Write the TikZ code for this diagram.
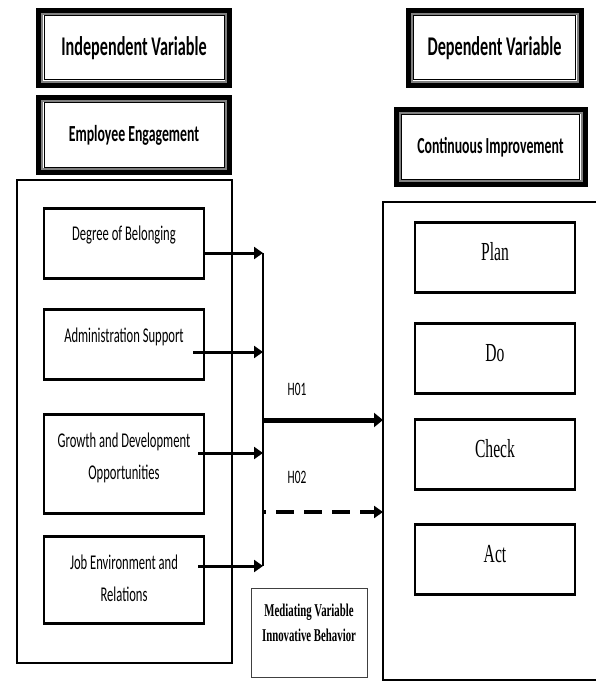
\documentclass[tikz,border=0pt]{standalone}
\usepackage{fontspec}
\newfontfamily\calibri[FakeStretch=0.6]{Carlito}
\newfontfamily\timesnr[FakeStretch=0.6]{Liberation Serif}
\usetikzlibrary{arrows.meta}

\begin{document}
\begin{tikzpicture}[x=1pt, y=-1pt,
        headbox/.style={draw=black, line width=1pt, minimum height=64pt, inner sep=0pt, font=\calibri\bfseries\fontsize{27}{30}\selectfont},
        subbox/.style={headbox, font=\calibri\bfseries\fontsize{23}{26}\selectfont},
        varbox/.style={draw=black, line width=2.5pt, minimum width=160pt, inner xsep=4pt, inner ysep=0pt, anchor=north, align=center, font=\calibri\fontsize{21}{32}\selectfont},
        stepbox/.style={draw=black, line width=2.5pt, minimum width=160pt, inner ysep=0pt, anchor=north, text height=38pt, text depth=32pt, font=\timesnr\fontsize{26}{30}\selectfont},
        hlabel/.style={font=\calibri\fontsize{19}{22}\selectfont},
        frameout/.style={line width=5pt},
        framemid/.style={draw=gray, line width=2pt},
        conn/.style={line width=3pt, -{Triangle[length=9pt,width=12pt]}},
    ]
    \useasboundingbox (0,0) rectangle (595,682);

    % Headers
    \node[headbox, minimum width=180pt] (indep) at (134,48) {Independent Variable};
    \node[subbox, minimum width=180pt] (engage) at (134,135) {Employee Engagement};
    \node[headbox, minimum width=162pt] (dep) at (494.5,48) {Dependent Variable};
    \node[subbox, minimum width=178pt] (improve) at (490.5,147) {Continuous Improvement};
    \foreach \n in {indep,engage,dep,improve} {
        \draw[frameout] ([xshift=-5pt,yshift=5pt]\n.north west) rectangle ([xshift=5pt,yshift=-5pt]\n.south east);
        \draw[framemid] ([xshift=-1.5pt,yshift=1.5pt]\n.north west) rectangle ([xshift=1.5pt,yshift=-1.5pt]\n.south east);
    }

    % Independent side
    \draw[line width=2.5pt] (17,180) rectangle (232,663);
    \node[varbox, text height=32pt, text depth=38pt] (belong) at (124,207) {Degree of Belonging};
    \node[varbox, text height=33pt, text depth=37pt] (admin) at (124,308) {Administration Support};
    \node[varbox, text height=65pt, text depth=34pt] (growth) at (124,413) {Growth and Development\\Opportunities};
    \node[varbox, text height=65pt, text depth=22pt] (jobenv) at (124,535) {Job Environment and\\Relations};

    % Dependent side
    \draw[line width=2pt] (600,202) -| (383,680) -- (600,680);
    \node[stepbox] (plan) at (495,221) {Plan};
    \node[stepbox] (do) at (495,322) {Do};
    \node[stepbox] (check) at (495,418) {Check};
    \node[stepbox] (act) at (495,523) {Act};

    % Mediator
    \node[draw=darkgray, line width=1pt, anchor=north, minimum width=116pt, inner ysep=0pt, align=center, text height=53pt, text depth=36pt, font=\timesnr\bfseries\fontsize{18}{25}\selectfont] (mediate) at (309,588) {Mediating Variable\\Innovative Behavior};

    % Lines
    \coordinate (busA) at (263,253);
    \coordinate (busB) at (263,352);
    \coordinate (busC) at (263,453);
    \coordinate (busD) at (263,566);
    \coordinate (depInA) at (383,420);
    \coordinate (depInB) at (383,512);
    \draw[line width=2.5pt] (busA) -- (busD);
    \draw[conn] (belong.east |- busA) -- (busA);
    \draw[conn, shorten <=-12pt] (admin.east |- busB) -- (busB);
    \draw[conn, shorten <=-7pt] (growth.east |- busC) -- (busC);
    \draw[conn, shorten <=-7pt] (jobenv.east |- busD) -- (busD);
    \draw[conn, line width=5pt, -{Triangle[length=9pt,width=14pt]}] (busA |- depInA) -- (depInA);
    \draw[conn, line width=3.5pt, dash pattern=on 18pt off 10pt, dash phase=15pt] (busA |- depInB) -- (depInB);
    \node[hlabel] (hA) at (297,389) {H01};
    \node[hlabel] (hB) at (297,477) {H02};

\end{tikzpicture}
\end{document}
